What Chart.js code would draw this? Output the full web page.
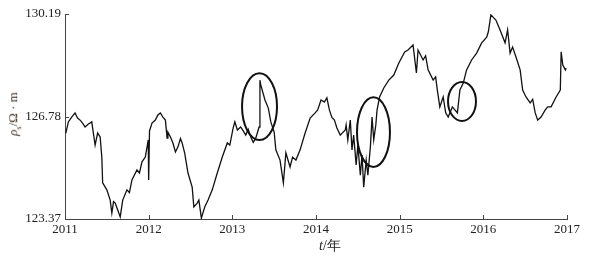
<!DOCTYPE html>
<html>
<head>
<meta charset="utf-8">
<script src="https://cdn.jsdelivr.net/npm/chart.js@4"></script>
<style>
  body { margin: 0; background: #fff; }
  #wrap { position: relative; width: 592px; height: 259px; }
  .lbl { position: absolute; font-family: 'Liberation Serif', 'DejaVu Serif', serif; font-size: 14px; white-space: nowrap; }
  #xlab { left: 330px; top: 246px; transform: translate(-50%, -50%); color: #222; }
  #ylab { left: 14px; top: 114px; transform: translate(-50%, -50%) rotate(-90deg); color: #3a2a20; font-size: 13px; }
  #ylab sub { font-size: 8px; }
</style>
</head>
<body>
<div id="wrap">
  <canvas id="chart" width="592" height="259"></canvas>
  <div class="lbl" id="xlab"><i>t</i>/年</div>
  <div class="lbl" id="ylab"><i>ρ</i><sub>s</sub>/Ω · m</div>
</div>
<script>
// apparent resistivity (year, ohm·m)
const years = [
  2011.01, 2011.04, 2011.08, 2011.12, 2011.15, 2011.18, 2011.21, 2011.24, 2011.28, 2011.32,
  2011.33, 2011.36, 2011.39, 2011.42, 2011.44, 2011.45, 2011.50, 2011.54, 2011.56, 2011.58,
  2011.60, 2011.63, 2011.66, 2011.69, 2011.74, 2011.77, 2011.80, 2011.86, 2011.89, 2011.92,
  2011.96, 2011.995, 2012.00, 2012.01, 2012.04, 2012.08, 2012.11, 2012.14, 2012.17, 2012.20,
  2012.22, 2012.23, 2012.26, 2012.29, 2012.32, 2012.35, 2012.38, 2012.40, 2012.43, 2012.47,
  2012.52, 2012.54, 2012.58, 2012.60, 2012.63, 2012.67, 2012.71, 2012.76, 2012.82, 2012.88,
  2012.94, 2012.97, 2013.01, 2013.03, 2013.06, 2013.10, 2013.13, 2013.16, 2013.19, 2013.22,
  2013.25, 2013.28, 2013.32, 2013.33, 2013.34, 2013.39, 2013.43, 2013.46, 2013.50, 2013.52,
  2013.57, 2013.61, 2013.64, 2013.69, 2013.72, 2013.76, 2013.81, 2013.87, 2013.93, 2013.99,
  2014.02, 2014.06, 2014.10, 2014.13, 2014.16, 2014.19, 2014.22, 2014.25, 2014.29, 2014.35,
  2014.36, 2014.38, 2014.41, 2014.43, 2014.45, 2014.48, 2014.50, 2014.53, 2014.55, 2014.57,
  2014.60, 2014.62, 2014.65, 2014.67, 2014.69, 2014.715, 2014.73, 2014.76, 2014.81, 2014.87,
  2014.93, 2014.99, 2015.06, 2015.10, 2015.16, 2015.20, 2015.22, 2015.28, 2015.31, 2015.34,
  2015.40, 2015.43, 2015.45, 2015.48, 2015.52, 2015.55, 2015.58, 2015.63, 2015.69, 2015.72,
  2015.76, 2015.80, 2015.86, 2015.92, 2015.98, 2016.04, 2016.06, 2016.09, 2016.15, 2016.20,
  2016.26, 2016.29, 2016.32, 2016.35, 2016.39, 2016.44, 2016.47, 2016.51, 2016.56, 2016.59,
  2016.62, 2016.65, 2016.69, 2016.74, 2016.77, 2016.81, 2016.87, 2016.92, 2016.93, 2016.95,
  2016.98, 2016.99
];
const rho = [
  126.23, 126.60, 126.76, 126.90, 126.73, 126.66, 126.56, 126.43, 126.53, 126.60,
  126.40, 125.83, 126.23, 126.10, 125.43, 124.57, 124.34, 124.00, 123.57, 123.95,
  123.90, 123.67, 123.44, 124.00, 124.34, 124.25, 124.67, 125.00, 124.90, 125.27,
  125.43, 126.00, 124.67, 126.30, 126.56, 126.66, 126.83, 126.90, 126.76, 126.66,
  126.06, 126.26, 126.10, 125.90, 125.60, 125.77, 126.05, 125.90, 125.57, 124.90,
  124.43, 123.77, 123.90, 124.00, 123.40, 123.77, 124.00, 124.34, 124.90, 125.43,
  125.90, 125.83, 126.40, 126.60, 126.33, 126.43, 126.30, 126.16, 126.35, 126.10,
  125.92, 126.06, 126.43, 127.99, 127.83, 127.33, 127.06, 126.60, 126.26, 125.67,
  125.33, 124.57, 125.57, 125.10, 125.43, 125.33, 125.67, 126.23, 126.73, 126.90,
  127.00, 127.33, 127.26, 127.40, 127.00, 126.75, 126.66, 126.40, 126.16, 126.33,
  126.50, 126.00, 126.66, 125.67, 126.16, 125.17, 125.83, 124.83, 125.50, 124.43,
  125.33, 124.83, 125.77, 126.76, 126.00, 126.50, 127.00, 127.43, 127.73, 127.99,
  128.16, 128.56, 128.93, 128.99, 129.16, 128.23, 128.99, 128.66, 128.80, 128.33,
  127.99, 128.10, 127.66, 127.10, 127.43, 126.90, 126.76, 127.10, 126.90, 127.66,
  127.89, 128.33, 128.66, 128.89, 129.23, 129.42, 129.60, 130.16, 129.99, 129.66,
  129.23, 129.66, 128.89, 129.09, 128.76, 128.33, 127.66, 127.43, 127.23, 127.35,
  126.90, 126.66, 126.76, 127.00, 127.10, 127.10, 127.43, 127.66, 128.93, 128.49,
  128.33, 128.39
];
const yTicks = [123.37, 126.78, 130.19];
const xTicks = [2011, 2012, 2013, 2014, 2015, 2016, 2017];

// marked anomalies: centre (year, value) and half-axes
const ellYear = [2013.325, 2014.687, 2015.745];
const ellVal = [127.11, 126.26, 127.28];
const ellRx = [0.209, 0.197, 0.167];
const ellRy = [1.11, 1.16, 0.65];

const serif = "'Liberation Serif', 'DejaVu Serif', serif";

const marks = {
  id: 'marks',
  afterDatasetsDraw(chart) {
    const { ctx, scales: { x, y }, chartArea } = chart;
    ctx.save();
    ctx.strokeStyle = '#111';
    ctx.lineWidth = 2;
    ellYear.forEach((yr, i) => {
      const cx = x.getPixelForValue(yr);
      const cy = y.getPixelForValue(ellVal[i]);
      const rx = Math.abs(x.getPixelForValue(yr + ellRx[i]) - cx);
      const ry = Math.abs(y.getPixelForValue(ellVal[i] + ellRy[i]) - cy);
      ctx.beginPath();
      ctx.ellipse(cx, cy, rx, ry, 0, 0, Math.PI * 2);
      ctx.stroke();
    });
    // inward tick marks
    ctx.strokeStyle = '#444';
    ctx.lineWidth = 1;
    ctx.beginPath();
    yTicks.forEach(v => {
      const py = Math.round(y.getPixelForValue(v)) + 0.5;
      ctx.moveTo(chartArea.left, py);
      ctx.lineTo(chartArea.left + 4, py);
    });
    xTicks.forEach(v => {
      const px = Math.round(x.getPixelForValue(v)) + 0.5;
      ctx.moveTo(px, chartArea.bottom);
      ctx.lineTo(px, chartArea.bottom - 4);
    });
    ctx.stroke();
    ctx.restore();
  }
};

new Chart(document.getElementById('chart'), {
  type: 'line',
  data: {
    datasets: [{
      data: years.map((t, i) => ({ x: t, y: rho[i] })),
      borderColor: '#111',
      borderWidth: 1.3,
      pointRadius: 0,
      tension: 0,
      fill: false
    }]
  },
  options: {
    responsive: false,
    animation: false,
    parsing: false,
    layout: { padding: { top: 14, right: 25, left: 0, bottom: 0 } },
    plugins: { legend: { display: false }, tooltip: { enabled: false } },
    scales: {
      x: {
        type: 'linear',
        min: 2011,
        max: 2017,
        afterBuildTicks: s => { s.ticks = xTicks.map(v => ({ value: v })); },
        afterFit: s => { s.height = 40; },
        ticks: {
          callback: v => String(v),
          font: { family: serif, size: 13 },
          color: '#222',
          padding: 3,
          maxRotation: 0
        },
        grid: { drawOnChartArea: false, drawTicks: false },
        border: { color: '#444', width: 1 }
      },
      y: {
        min: 123.37,
        max: 130.19,
        afterBuildTicks: s => { s.ticks = yTicks.map(v => ({ value: v })); },
        afterFit: s => { s.width = 65; },
        ticks: {
          callback: v => v.toFixed(2),
          font: { family: serif, size: 13 },
          color: '#222',
          padding: 4
        },
        grid: { drawOnChartArea: false, drawTicks: false },
        border: { color: '#444', width: 1 }
      }
    }
  },
  plugins: [marks]
});
</script>
</body>
</html>
